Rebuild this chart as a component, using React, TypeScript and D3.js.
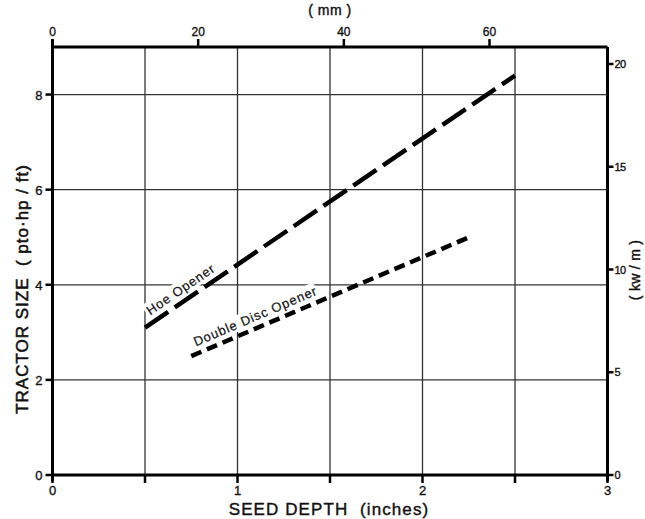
import React from "react";
import * as d3 from "d3";

// Data
const hoeDepth = [0.5, 2.5];
const hoePower = [3.1, 8.4];
const discDepth = [0.75, 2.27];
const discPower = [2.5, 5.03];

const inchTicks = [0, 0.5, 1, 1.5, 2, 2.5, 3];
const inchLabels = [0, 1, 2, 3];
const mmTicks = [0, 20, 40, 60];
const hpTicks = [0, 2, 4, 6, 8];
const kwTicks = [0, 5, 10, 15, 20];
const gridX = [0.5, 1, 1.5, 2, 2.5];
const gridY = [2, 4, 6, 8];

const W = 645;
const H = 519;
const FONT = "'Liberation Sans', Arial, sans-serif";
const NB = "\u00a0";

export default function App() {
  const x = d3.scaleLinear().domain([0, 3]).range([52.5, 607.5]);
  const y = d3.scaleLinear().domain([0, 9]).range([475, 47]);
  const mm = d3.scaleLinear().domain([0, 76.2]).range([52.5, 607.5]);
  const kw = d3.scaleLinear().domain([0, 20]).range([475, 64]);

  const line = d3
    .line<[number, number]>()
    .x((d) => x(d[0]))
    .y((d) => y(d[1]));

  const hoePts: [number, number][] = hoeDepth.map((d, i) => [d, hoePower[i]]);
  const discPts: [number, number][] = discDepth.map((d, i) => [d, discPower[i]]);

  const angleOf = (pts: [number, number][]) => {
    const dx = x(pts[1][0]) - x(pts[0][0]);
    const dy = y(pts[1][1]) - y(pts[0][1]);
    return (Math.atan2(dy, dx) * 180) / Math.PI;
  };
  const along = (pts: [number, number][], d: number) => {
    const t = (d - pts[0][0]) / (pts[1][0] - pts[0][0]);
    return [x(d), y(pts[0][1] + t * (pts[1][1] - pts[0][1]))];
  };

  const hoeAng = angleOf(hoePts);
  const discAng = angleOf(discPts);
  const hoeLab = along(hoePts, 0.55);
  const discLab = along(discPts, 0.79);

  const x0 = x(0), x3 = x(3), yb = y(0), yt = y(9);
  const txt = { fill: "#111", stroke: "#111", strokeWidth: 0.35 };

  return (
    <svg
      width={W}
      height={H}
      style={{ position: "absolute", left: 0, top: 0, background: "#fff" }}
      fontFamily={FONT}
    >
      <rect x={0} y={0} width={W} height={H} fill="#fff" />
      {/* grid */}
      {gridX.map((g) => (
        <line key={"gx" + g} x1={x(g)} x2={x(g)} y1={yt} y2={yb} stroke="#333" strokeWidth={1.3} />
      ))}
      {gridY.map((g) => (
        <line key={"gy" + g} x1={x0} x2={x3} y1={y(g)} y2={y(g)} stroke="#333" strokeWidth={1.3} />
      ))}

      {/* label backgrounds */}
      <g transform={`translate(${hoeLab[0]},${hoeLab[1]}) rotate(${hoeAng})`}>
        <rect x={-2} y={-20} width={84} height={16} fill="#fff" />
      </g>
      <g transform={`translate(${discLab[0]},${discLab[1]}) rotate(${discAng})`}>
        <rect x={-2} y={-20} width={135} height={16} fill="#fff" />
      </g>

      {/* data lines */}
      <path d={line(hoePts) || ""} fill="none" stroke="#000" strokeWidth={4.5} strokeDasharray="28 8" />
      <path d={line(discPts) || ""} fill="none" stroke="#000" strokeWidth={4.5} strokeDasharray="11 6" />

      {/* line labels */}
      <text
        transform={`translate(${hoeLab[0]},${hoeLab[1]}) rotate(${hoeAng}) translate(0,-7)`}
        fontSize={13}
        letterSpacing={0.9}
        {...txt}
        strokeWidth={0.2}
      >
        {"Hoe" + NB + "Opener"}
      </text>
      <text
        transform={`translate(${discLab[0]},${discLab[1]}) rotate(${discAng}) translate(0,-7)`}
        fontSize={13}
        letterSpacing={0.9}
        {...txt}
        strokeWidth={0.2}
      >
        {"Double" + NB + "Disc" + NB + "Opener"}
      </text>

      {/* axes frame */}
      <line x1={x0} x2={x3} y1={yb} y2={yb} stroke="#000" strokeWidth={3} />
      <line x1={x0} x2={x3} y1={yt} y2={yt} stroke="#000" strokeWidth={3} />
      <line x1={x0} x2={x0} y1={yt - 8} y2={yb + 6} stroke="#000" strokeWidth={3} />
      <line x1={x3} x2={x3} y1={yt} y2={yb + 6} stroke="#000" strokeWidth={3} />

      {/* bottom ticks */}
      {inchTicks.map((t) => (
        <line key={"bt" + t} x1={x(t)} x2={x(t)} y1={yb} y2={yb + 8} stroke="#000" strokeWidth={2.5} />
      ))}
      {inchLabels.map((t) => (
        <text key={"bl" + t} x={x(t)} y={yb + 20} textAnchor="middle" fontSize={13} {...txt}>
          {t}
        </text>
      ))}
      {/* top ticks */}
      {mmTicks.map((t) => (
        <line key={"tt" + t} x1={mm(t)} x2={mm(t)} y1={yt} y2={yt - 8} stroke="#000" strokeWidth={2.5} />
      ))}
      {mmTicks.map((t) => (
        <text key={"tl" + t} x={mm(t)} y={yt - 11} textAnchor="middle" fontSize={12} {...txt}>
          {t}
        </text>
      ))}
      {/* left ticks */}
      {hpTicks.map((t) => (
        <line key={"lt" + t} x1={x0} x2={x0 - 7} y1={y(t)} y2={y(t)} stroke="#000" strokeWidth={2.5} />
      ))}
      {hpTicks.map((t) => (
        <text key={"ll" + t} x={x0 - 10} y={y(t) + 5} textAnchor="end" fontSize={13} {...txt}>
          {t}
        </text>
      ))}
      {/* right ticks */}
      {kwTicks.map((t) => (
        <line key={"rt" + t} x1={x3} x2={x3 + 6} y1={kw(t)} y2={kw(t)} stroke="#000" strokeWidth={2.5} />
      ))}
      {kwTicks.map((t) => (
        <text key={"rl" + t} x={x3 + 7} y={kw(t) + 4} textAnchor="start" fontSize={11} {...txt} letterSpacing={-0.5}>
          {t}
        </text>
      ))}

      {/* axis titles */}
      <text x={329} y={515} textAnchor="middle" fontSize={17} {...txt} strokeWidth={0.4} letterSpacing={1.1}>
        {"SEED DEPTH" + NB + NB + "(inches)"}
      </text>
      <text x={330} y={15} textAnchor="middle" fontSize={14} {...txt} strokeWidth={0.4} letterSpacing={0.5}>
        {"(" + NB + "mm" + NB + ")"}
      </text>
      <text
        transform={`translate(28,${289}) rotate(-90)`}
        textAnchor="middle"
        fontSize={17}
        {...txt}
        strokeWidth={0.55}
        letterSpacing={1}
      >
        {"TRACTOR SIZE" + NB + NB + "(" + NB + "pto·hp" + NB + "/" + NB + "ft)"}
      </text>
      <text
        transform={`translate(640,${270}) rotate(-90)`}
        textAnchor="middle"
        fontSize={14}
        {...txt}
        strokeWidth={0.4}
        letterSpacing={0.3}
      >
        {"(" + NB + "kw" + NB + "/" + NB + "m" + NB + ")"}
      </text>
    </svg>
  );
}
